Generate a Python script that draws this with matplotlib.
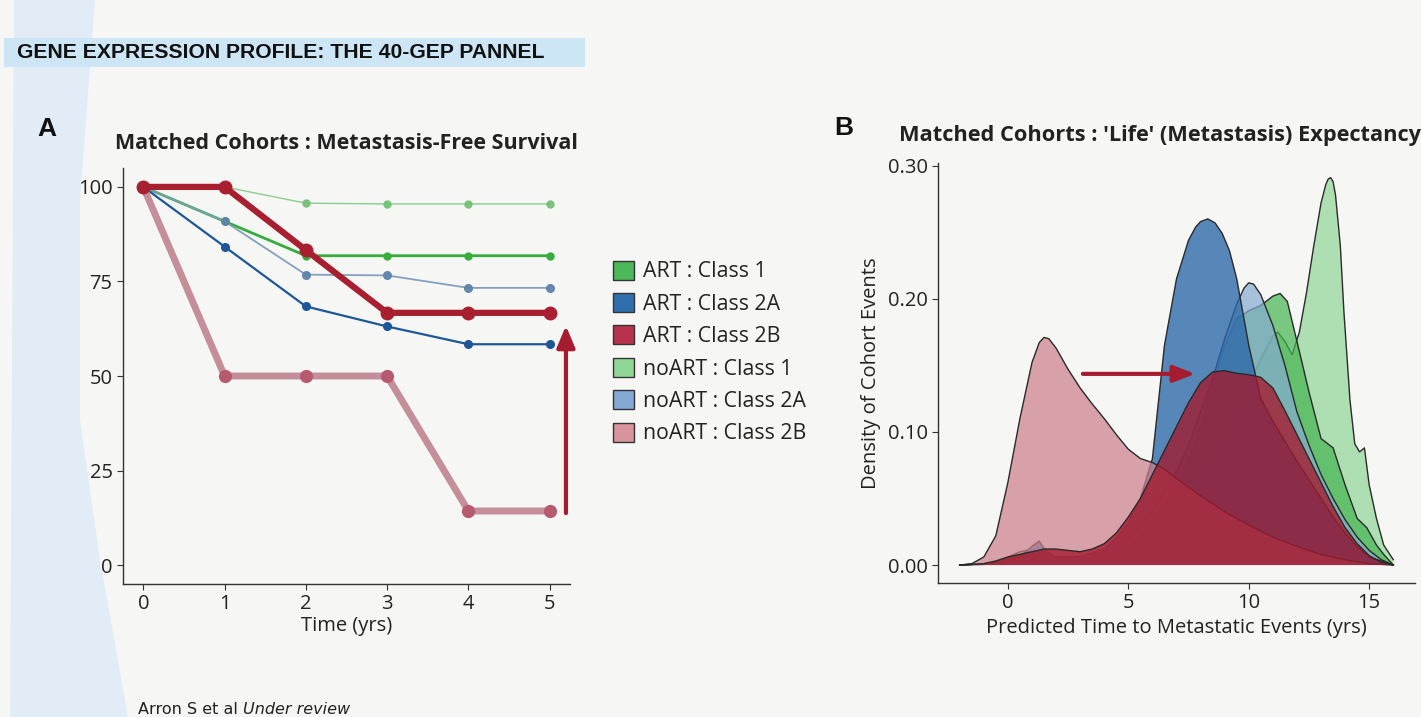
import matplotlib
matplotlib.use("Agg")
import matplotlib.pyplot as plt
from matplotlib.patches import Polygon, Rectangle, Patch
import numpy as np

W, H = 1421, 717

# ---------------- Panel A data ----------------
years = [0, 1, 2, 3, 4, 5]
art_c1 = [100, 90.9, 81.8, 81.8, 81.8, 81.8]
art_c2a = [100, 84.2, 68.4, 63.1, 58.4, 58.4]
art_c2b = [100, 100, 83.3, 66.7, 66.7, 66.7]
noart_c1 = [100, 100, 95.7, 95.5, 95.5, 95.5]
noart_c2a = [100, 90.9, 76.8, 76.6, 73.3, 73.3]
noart_c2b = [100, 50, 50, 50, 14.3, 14.3]

labels = ["ART : Class 1", "ART : Class 2A", "ART : Class 2B",
          "noART : Class 1", "noART : Class 2A", "noART : Class 2B"]
yticks_a = [0, 25, 50, 75, 100]
xticks_a = [0, 1, 2, 3, 4, 5]

# ---------------- Panel B data (density curves) ----------------
x_noart_c1 = [-2, -1, 0, 0.5, 1, 2, 3, 4, 5, 6, 7, 8, 9, 9.5, 10, 10.5, 11, 11.2, 11.5,
              11.8, 12.1, 12.4, 12.7, 13.0, 13.2, 13.3, 13.4, 13.5, 13.6, 13.8, 13.95,
              14.2, 14.4, 14.6, 14.8, 15.0, 15.3, 15.6, 16]
d_noart_c1 = [0, 0.001, 0.004, 0.008, 0.006, 0.004, 0.004, 0.006, 0.010, 0.020, 0.040,
              0.070, 0.100, 0.118, 0.135, 0.155, 0.172, 0.175, 0.168, 0.158, 0.175,
              0.205, 0.240, 0.272, 0.286, 0.290, 0.291, 0.288, 0.278, 0.240, 0.190,
              0.124, 0.091, 0.085, 0.088, 0.060, 0.035, 0.015, 0.004]

x_art_c1 = [-2, -1, -0.5, 0, 0.5, 0.8, 1.2, 2, 3, 4, 5, 6, 7, 7.5, 8, 8.5, 9, 9.5, 10,
            10.5, 11, 11.3, 11.6, 12, 12.5, 13, 13.5, 14, 14.5, 14.9, 15.3, 15.6, 16]
d_art_c1 = [0, 0.001, 0.003, 0.006, 0.010, 0.011, 0.006, 0.004, 0.005, 0.008, 0.015,
            0.030, 0.060, 0.080, 0.105, 0.135, 0.165, 0.185, 0.191, 0.195, 0.202,
            0.204, 0.198, 0.168, 0.130, 0.095, 0.088, 0.060, 0.035, 0.028, 0.015,
            0.008, 0]

x_noart_c2a = [-2, -1, 0, 1, 2, 3, 4, 5, 6, 7, 7.5, 8, 8.5, 9, 9.5, 9.8, 10, 10.2, 10.5,
               11, 11.5, 12, 12.5, 13, 13.5, 14, 14.5, 15, 15.5, 16]
d_noart_c2a = [0, 0.001, 0.004, 0.008, 0.006, 0.006, 0.010, 0.020, 0.040, 0.070, 0.090,
               0.115, 0.140, 0.170, 0.196, 0.208, 0.212, 0.211, 0.203, 0.180, 0.150,
               0.115, 0.090, 0.068, 0.050, 0.034, 0.021, 0.011, 0.004, 0]

x_art_c2a = [-2, -1, 0, 0.5, 1, 1.3, 1.6, 2, 3, 4, 4.5, 5, 5.5, 6, 6.5, 7, 7.5, 7.8, 8.0,
             8.3, 8.6, 8.9, 9.2, 9.5, 10, 10.5, 11, 11.5, 12, 12.5, 13, 13.5, 14, 14.5,
             15, 16]
d_art_c2a = [0, 0.0005, 0.002, 0.006, 0.014, 0.018, 0.010, 0.006, 0.006, 0.012, 0.020,
             0.032, 0.050, 0.080, 0.165, 0.215, 0.244, 0.254, 0.258, 0.260, 0.257,
             0.249, 0.236, 0.215, 0.165, 0.125, 0.108, 0.093, 0.078, 0.064, 0.050,
             0.036, 0.024, 0.014, 0.006, 0]

x_noart_c2b = [-2, -1.5, -1, -0.5, 0, 0.5, 1, 1.3, 1.5, 1.7, 2, 2.5, 3, 3.5, 4, 4.5, 5,
               5.5, 6, 6.5, 7, 8, 9, 10, 11, 12, 13, 14, 15, 16]
d_noart_c2b = [0, 0.001, 0.006, 0.022, 0.062, 0.110, 0.152, 0.167, 0.171, 0.170, 0.163,
               0.147, 0.133, 0.121, 0.110, 0.098, 0.087, 0.080, 0.077, 0.072, 0.065,
               0.052, 0.040, 0.030, 0.021, 0.014, 0.008, 0.004, 0.001, 0]

x_art_c2b = [-2, -1.5, -1, -0.5, 0, 0.5, 1, 1.5, 2, 2.5, 3, 3.5, 4, 4.5, 5, 5.5, 6, 6.5,
             7, 7.5, 8, 8.5, 9, 9.5, 10, 10.5, 11, 11.5, 12, 12.5, 13, 13.5, 14, 14.5,
             15, 15.5, 16]
d_art_c2b = [0, 0.0005, 0.001, 0.003, 0.006, 0.008, 0.010, 0.012, 0.012, 0.011, 0.010,
             0.012, 0.016, 0.024, 0.036, 0.050, 0.068, 0.086, 0.104, 0.122, 0.137,
             0.145, 0.146, 0.144, 0.143, 0.141, 0.133, 0.116, 0.098, 0.080, 0.062,
             0.044, 0.028, 0.016, 0.007, 0.002, 0]

yticks_b = [0.0, 0.1, 0.2, 0.3]
ytick_labels_b = ["0.00", "0.10", "0.20", "0.30"]
xticks_b = [0, 5, 10, 15]

# ---------------- colours ----------------
col_fill = {"ART : Class 1": "#44b552", "ART : Class 2A": "#2a67a8", "ART : Class 2B": "#a3192d",
            "noART : Class 1": "#86d48e", "noART : Class 2A": "#86aad2", "noART : Class 2B": "#cd7f8b"}
col_legend = {"ART : Class 1": "#4cb859", "ART : Class 2A": "#2f6fad", "ART : Class 2B": "#b7334d",
              "noART : Class 1": "#8ed596", "noART : Class 2A": "#83a9d4", "noART : Class 2B": "#d9939d"}
BG = "#f6f6f5"
TXT = "#222222"

fig = plt.figure(figsize=(W / 100, H / 100), dpi=100)
fig.patch.set_facecolor(BG)

def fx(px):
    return px / W

def fy(py):
    return 1 - py / H

# decorative left band
band = Polygon([(fx(14), fy(0)), (fx(95), fy(0)), (fx(80), fy(200)), (fx(80), fy(420)),
                (fx(100), fy(560)), (fx(128), fy(717)), (fx(10), fy(717))],
               closed=True, transform=fig.transFigure, facecolor="#e2ecf6", edgecolor="none", zorder=0)
fig.patches.append(band)
# header band
hdr = Rectangle((fx(4), fy(67)), fx(585) - fx(4), fy(38) - fy(67), transform=fig.transFigure,
                facecolor="#cde6f6", edgecolor="none", zorder=0)
fig.patches.append(hdr)
fig.text(fx(17), fy(53), "GENE EXPRESSION PROFILE: THE 40-GEP PANNEL", family="Liberation Sans",
         weight="bold", fontsize=15.2, color="#111111", va="center", ha="left")

fig.text(fx(37), fy(129), "A", family="Liberation Sans", weight="bold", fontsize=19, color="#111111",
         va="center", ha="left")
fig.text(fx(834), fy(128), "B", family="Liberation Sans", weight="bold", fontsize=19, color="#111111",
         va="center", ha="left")

t1 = fig.text(fx(138), fy(709), "Arron S et al ", family="DejaVu Sans", fontsize=11.5,
              color="#222222", va="center", ha="left")

# ---------------- Panel A ----------------
axA = fig.add_axes([fx(123), fy(584), fx(570) - fx(123), fy(168) - fy(584)])
axA.set_facecolor("none")
series_a = [
    (noart_c1, "#7fc97f", "#6fbf72", 1.0, 5.0, 0.9),
    (art_c1, "#35ad3d", "#35ad3d", 2.0, 5.0, 1.0),
    (noart_c2a, "#7f9cbc", "#5f83aa", 1.3, 5.5, 0.95),
    (art_c2a, "#1d5797", "#1d5797", 1.6, 5.5, 1.0),
    (noart_c2b, "#c58f9a", "#b65a6f", 5.0, 8.5, 1.0),
    (art_c2b, "#a81f30", "#a81f30", 4.5, 9.0, 1.0),
]
for vals, c, mc, lw, ms, a in series_a:
    axA.plot(years, vals, color=c, lw=lw, marker="o", ms=ms, mfc=mc, mec=mc, alpha=a,
             solid_capstyle="round", solid_joinstyle="round")
axA.set_xlim(-0.25, 5.25)
axA.set_ylim(-5, 105)
axA.set_xticks(xticks_a)
axA.set_yticks(yticks_a)
axA.annotate("", xy=(5.2, 64.0), xytext=(5.2, 13.0),
             arrowprops=dict(arrowstyle="-|>,head_width=0.55,head_length=1.3", color="#a51c30", lw=3))
axA.set_title("Matched Cohorts : Metastasis-Free Survival", family="Open Sans", weight="bold",
              fontsize=15.5, color=TXT, pad=14)
axA.set_xlabel("Time (yrs)", family="Open Sans", fontsize=14.5, color=TXT, labelpad=1)
axA.set_ylabel("Median MFS Rate (%)", family="Open Sans", fontsize=14.5, color=TXT, labelpad=5)

# legend
handles = [Patch(facecolor=col_legend[l], edgecolor="#333333", lw=1.0, label=l) for l in labels]
leg = fig.legend(handles=handles, loc="upper left", bbox_to_anchor=(fx(604), fy(252)),
                 frameon=False, prop={"family": "Open Sans", "size": 15.3}, handlelength=1.0,
                 handleheight=1.0, handletextpad=0.45, labelspacing=0.5, borderaxespad=0)
for t in leg.get_texts():
    t.set_color(TXT)

# ---------------- Panel B ----------------
axB = fig.add_axes([fx(938), fy(583), fx(1415) - fx(938), fy(163) - fy(583)])
axB.set_facecolor("none")
series_b = [
    (x_noart_c1, d_noart_c1, "noART : Class 1", 0.65),
    (x_art_c1, d_art_c1, "ART : Class 1", 0.7),
    (x_noart_c2a, d_noart_c2a, "noART : Class 2A", 0.7),
    (x_art_c2a, d_art_c2a, "ART : Class 2A", 0.78),
    (x_noart_c2b, d_noart_c2b, "noART : Class 2B", 0.72),
    (x_art_c2b, d_art_c2b, "ART : Class 2B", 0.78),
]
z = 2
for xs, ds, name, a in series_b:
    axB.fill_between(xs, 0, ds, facecolor=col_fill[name], alpha=a, edgecolor="none", zorder=z)
    axB.plot(xs, ds, color="#2a2a2a", lw=1.0, zorder=z + 0.5, solid_joinstyle="round")
    z += 1
axB.set_xlim(-2.9, 16.9)
axB.set_ylim(-0.0135, 0.302)
axB.set_xticks(xticks_b)
axB.set_yticks(yticks_b)
axB.set_yticklabels(ytick_labels_b)
axB.annotate("", xy=(7.9, 0.1436), xytext=(3.0, 0.1436), zorder=20,
             arrowprops=dict(arrowstyle="-|>,head_width=0.5,head_length=1.3", color="#a51c30", lw=3))
axB.set_title("Matched Cohorts : 'Life' (Metastasis) Expectancy", family="Open Sans",
              weight="bold", fontsize=15.7, color=TXT, pad=16, loc="left", x=-0.082)
axB.set_xlabel("Predicted Time to Metastatic Events (yrs)", family="Open Sans", fontsize=14.5,
               color=TXT, labelpad=3)
axB.set_ylabel("Density of Cohort Events", family="Open Sans", fontsize=14.5, color=TXT, labelpad=5)

for ax in (axA, axB):
    for s in ("top", "right"):
        ax.spines[s].set_visible(False)
    for s in ("left", "bottom"):
        ax.spines[s].set_color("#333333")
        ax.spines[s].set_linewidth(1.0)
    ax.tick_params(colors="#333333", labelcolor=TXT, labelsize=14.5, length=4, width=0.8)
    for lab in ax.get_xticklabels() + ax.get_yticklabels():
        lab.set_family("Open Sans")

# place italic part of the footer right after the plain part
fig.canvas.draw()
bb = t1.get_window_extent(renderer=fig.canvas.get_renderer())
fig.text(bb.x1 / W, fy(709), "Under review", family="DejaVu Sans", style="italic", fontsize=11.5,
         color="#222222", va="center", ha="left")

fig.savefig("out.png", dpi=100, facecolor=fig.get_facecolor())
